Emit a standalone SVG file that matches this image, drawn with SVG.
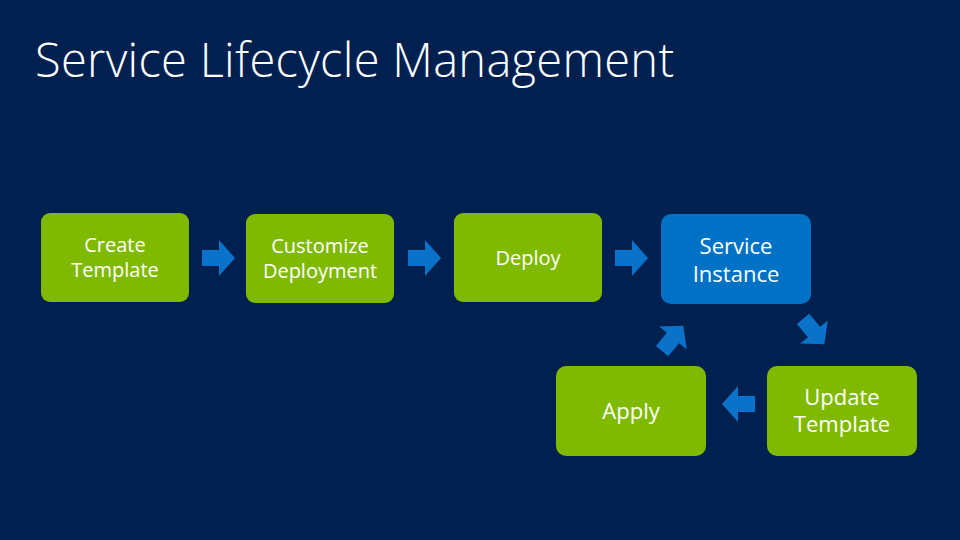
<svg xmlns="http://www.w3.org/2000/svg" xmlns:xlink="http://www.w3.org/1999/xlink" width="960" height="540" viewBox="0 0 960 540">
<style>
.g{fill:#7FBA00}.b{fill:#0072C6}
text{font-family:"Segoe UI","Open Sans","Noto Sans",sans-serif;fill:#fff;text-anchor:middle}
.t{font-size:20px}.s{font-size:22px}
</style>
<defs><polygon id="ar" points="-17,-8 0,-8 0,-18 16,0 0,18 0,8 -17,8" fill="#0A72C8"/></defs>
<rect width="960" height="540" fill="#002050"/>
<text x="35" y="77" style="font-size:47px;text-anchor:start;font-weight:300;letter-spacing:0.3px">Service Lifecycle Management</text>
<g id="create"><rect class="g" x="41" y="213" width="148" height="89" rx="9"/><text class="t" x="115" y="252">Create</text><text class="t" x="115" y="277">Template</text></g>
<g id="customize"><rect class="g" x="246" y="214" width="148" height="89" rx="9"/><text class="t" x="320" y="253">Customize</text><text class="t" x="320" y="278">Deployment</text></g>
<g id="deploy"><rect class="g" x="454" y="213" width="148" height="89" rx="9"/><text class="t" x="528" y="265">Deploy</text></g>
<g id="instance"><rect class="b" x="661" y="214" width="150" height="90" rx="10"/><text class="s" x="736" y="254">Service</text><text class="s" x="736" y="282">Instance</text></g>
<g id="apply"><rect class="g" x="556" y="366" width="150" height="90" rx="10"/><text class="s" x="631" y="419">Apply</text></g>
<g id="update"><rect class="g" x="767" y="366" width="150" height="90" rx="10"/><text class="s" x="842" y="405">Update</text><text class="s" x="842" y="432">Template</text></g>
<g id="connectors">
<use xlink:href="#ar" transform="translate(219,258)"/>
<use xlink:href="#ar" transform="translate(425,258)"/>
<use xlink:href="#ar" transform="translate(632,258)"/>
<use xlink:href="#ar" transform="translate(814,332) rotate(50)"/>
<use xlink:href="#ar" transform="translate(738,404) rotate(180)"/>
<use xlink:href="#ar" transform="translate(673,338) rotate(-50)"/>
</g>
</svg>
